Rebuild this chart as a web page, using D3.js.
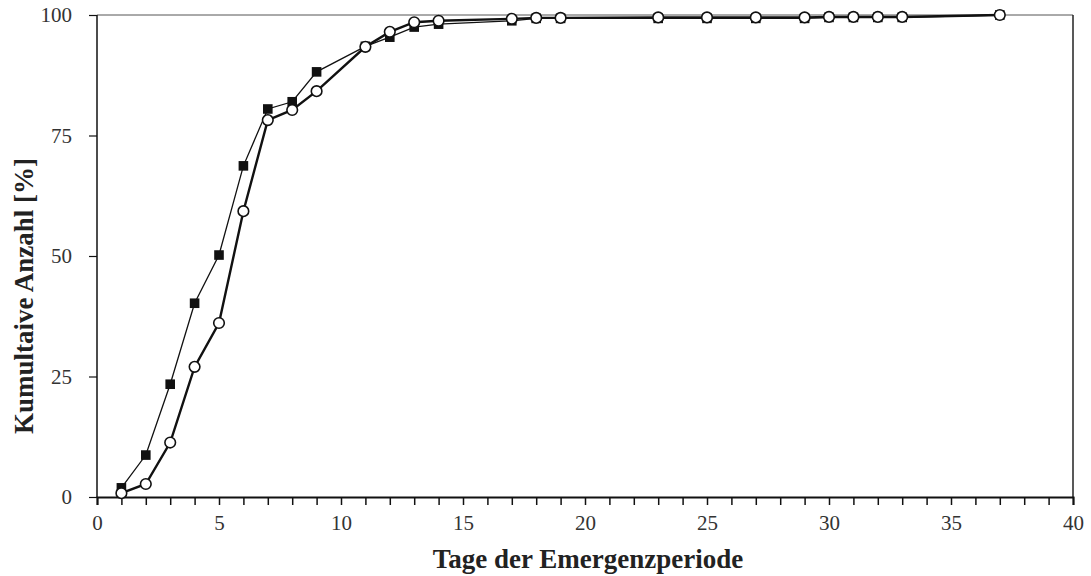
<!DOCTYPE html>
<html><head><meta charset="utf-8">
<script src="https://cdn.jsdelivr.net/npm/d3@7"></script>
<style>body{margin:0;background:#fff;}svg{display:block;}</style>
</head><body>
<svg id="c" width="1091" height="576"></svg>
<script>
const days = [1,2,3,4,5,6,7,8,9,11,12,13,14,17,18,19,23,25,27,29,30,31,32,33,37];
const squareSeries = [1.9,8.7,23.4,40.2,50.2,68.7,80.5,82.0,88.2,93.5,95.4,97.5,98.1,98.8,99.3,99.3,99.3,99.3,99.3,99.3,99.5,99.5,99.5,99.5,100];
const circleSeries = [0.8,2.7,11.3,27.0,36.1,59.3,78.2,80.3,84.2,93.4,96.5,98.5,98.8,99.2,99.4,99.4,99.5,99.5,99.5,99.5,99.6,99.6,99.6,99.6,100];
const xTickLabels = [0,5,10,15,20,25,30,35,40];
const yTickLabels = [0,25,50,75,100];
const xTitle = "Tage der Emergenzperiode";
const yTitle = "Kumultaive Anzahl [%]";

const L=97, T=15, R=1073, B=497;
const svg = d3.select("#c");
const x = d3.scaleLinear().domain([0,40]).range([L,R]);
const y = d3.scaleLinear().domain([0,100]).range([B,T]);
const font = "'Liberation Serif','Times New Roman',serif";

// frame
svg.append("line").attr("x1",L).attr("x2",R).attr("y1",T).attr("y2",T).attr("stroke","#555").attr("stroke-width",1);
svg.append("line").attr("x1",R).attr("x2",R).attr("y1",T).attr("y2",B).attr("stroke","#222").attr("stroke-width",1.5);

// x axis
const xAxis = d3.axisBottom(x).tickValues(d3.range(0,41,1)).tickSize(8).tickFormat(d => xTickLabels.includes(d) ? d : "");
const gx = svg.append("g").attr("transform",`translate(0,${B})`).call(xAxis);
gx.select(".domain").attr("stroke","#111").attr("stroke-width",2);
gx.selectAll(".tick line").attr("stroke","#111").attr("stroke-width",1.5);
gx.selectAll(".tick text").attr("font-family",font).attr("font-size",21).attr("fill","#333").attr("dy","0.71em").attr("y",18);

// y axis
const yAxis = d3.axisLeft(y).tickValues(yTickLabels).tickSize(8).tickPadding(17);
const gy = svg.append("g").attr("transform",`translate(${L},0)`).call(yAxis);
gy.select(".domain").attr("stroke","#111").attr("stroke-width",1.5).attr("d",`M0,${B}V${T}`);
gy.selectAll(".tick line").attr("stroke","#111").attr("stroke-width",1.2);
gy.selectAll(".tick text").attr("font-family",font).attr("font-size",21).attr("fill","#333");

// titles
svg.append("text").attr("x",588).attr("y",568).attr("text-anchor","middle")
  .attr("font-family",font).attr("font-size",27).attr("font-weight","bold").attr("fill","#222").text(xTitle);
svg.append("text").attr("transform",`translate(33,${(T+B)/2+40}) rotate(-90)`).attr("text-anchor","middle")
  .attr("font-family",font).attr("font-size",27).attr("font-weight","bold").attr("fill","#222").text(yTitle);

const line = d3.line().x(d=>x(d[0])).y(d=>y(d[1]));
const sq = days.map((d,i)=>[d,squareSeries[i]]);
const ci = days.map((d,i)=>[d,circleSeries[i]]);

svg.append("path").datum(sq).attr("d",line).attr("fill","none").attr("stroke","#111").attr("stroke-width",1.3);
svg.append("path").datum(ci).attr("d",line).attr("fill","none").attr("stroke","#111").attr("stroke-width",2.4);

svg.append("g").selectAll("rect").data(sq).join("rect")
  .attr("x",d=>x(d[0])-4.8).attr("y",d=>y(d[1])-4.8).attr("width",9.6).attr("height",9.6).attr("fill","#111");
svg.append("g").selectAll("circle").data(ci).join("circle")
  .attr("cx",d=>x(d[0])).attr("cy",d=>y(d[1])).attr("r",5.3).attr("fill","#fff").attr("stroke","#111").attr("stroke-width",1.6);
</script>
</body></html>
